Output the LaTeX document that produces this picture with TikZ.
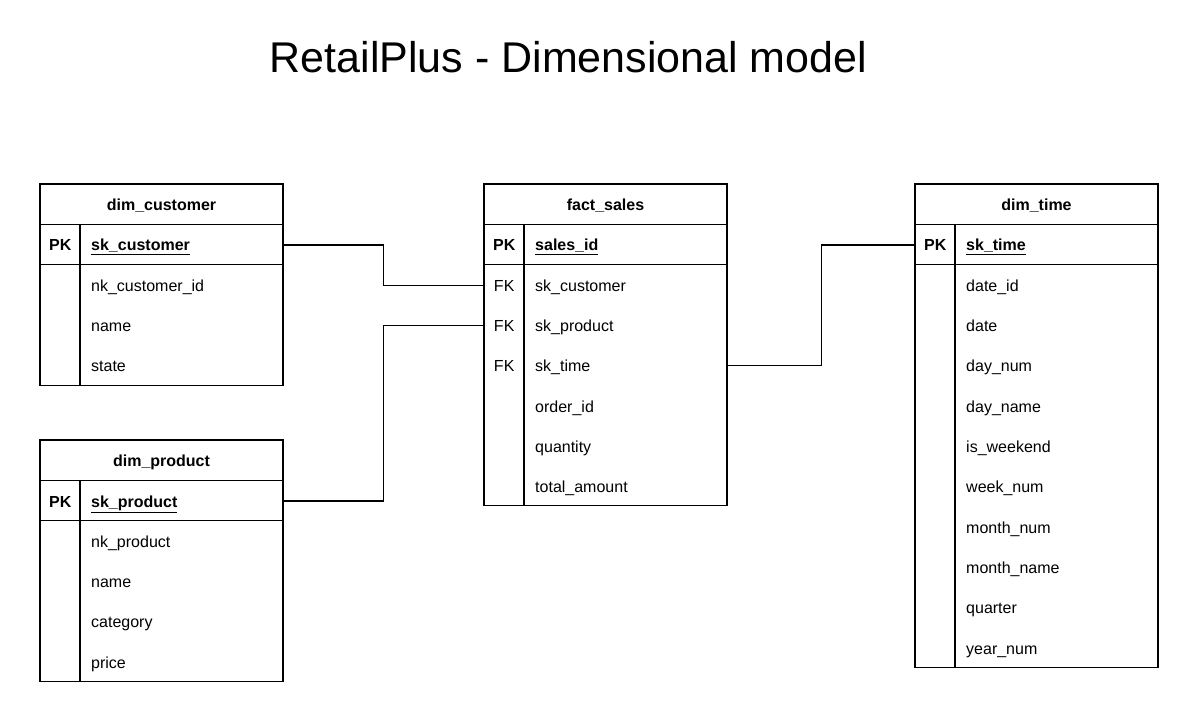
\documentclass[tikz,border=0pt]{standalone}
\usepackage{fontspec}
\setmainfont{Liberation Sans}
\begin{document}
\begin{tikzpicture}[
    x=1pt, y=-1pt,
    every node/.style={font=\fontsize{16}{19}\selectfont, inner sep=0pt},
    frame/.style={draw, line width=1.2pt},
    link/.style={draw, line width=1.1pt},
    head/.style={font=\fontsize{16}{19}\selectfont\bfseries, text height=13pt, text depth=1pt},
    key/.style={anchor=west, minimum width=40pt, text height=13pt, text depth=1pt, inner ysep=13.15pt},
    field/.style={anchor=west, text width=181pt, inner xsep=11pt, align=left, text height=13pt, text depth=1pt, inner ysep=13.15pt},
  ]
    \path[use as bounding box, fill=white] (0,0) rectangle (1198,708);
    %% Title
    \node[font=\fontsize{43}{50}\selectfont, anchor=base] (title) at (568.5,73) {RetailPlus - Dimensional model};

    %% dim_customer
    \draw[frame] (40,184) rectangle (283,385.5);
    \draw[frame] (40,224.3) -- (283,224.3);
    \draw[frame] (40,264.6) -- (283,264.6);
    \draw[frame] (80,224.3) -- (80,385.5);
    \node[head] (cust) at (161.5,204.6) {dim\_customer};
    \node[key, font=\fontsize{16}{19}\selectfont\bfseries] (cust-pk-key) at (40,245) {PK};
    \node[field, font=\fontsize{16}{19}\selectfont\bfseries] (cust-pk) at (80,245) {\underline{sk\_customer}};
    \foreach \f [count=\i] in {nk\_customer\_id, name, state}
      \node[field] (cust-\i) at (80,{245+40.3*\i}) {\f};

    %% dim_product
    \draw[frame] (40,440) rectangle (283,681.8);
    \draw[frame] (40,480.3) -- (283,480.3);
    \draw[frame] (40,520.6) -- (283,520.6);
    \draw[frame] (80,480.3) -- (80,681.8);
    \node[head] (prod) at (161.5,460.6) {dim\_product};
    \node[key, font=\fontsize{16}{19}\selectfont\bfseries] (prod-pk-key) at (40,501) {PK};
    \node[field, font=\fontsize{16}{19}\selectfont\bfseries] (prod-pk) at (80,501) {\underline{sk\_product}};
    \foreach \f [count=\i] in {nk\_product, name, category, price}
      \node[field] (prod-\i) at (80,{501+40.3*\i}) {\f};

    %% fact_sales
    \draw[frame] (484,184) rectangle (727,505.8);
    \draw[frame] (484,224.3) -- (727,224.3);
    \draw[frame] (484,264.6) -- (727,264.6);
    \draw[frame] (524,224.3) -- (524,505.8);
    \node[head] (fact) at (605.5,204.6) {fact\_sales};
    \node[key, font=\fontsize{16}{19}\selectfont\bfseries] (fact-pk-key) at (484,245) {PK};
    \node[field, font=\fontsize{16}{19}\selectfont\bfseries] (fact-pk) at (524,245) {\underline{sales\_id}};
    \foreach \i in {1,2,3}
      \node[key] (fact-k\i) at (484,{245+40.3*\i}) {FK};
    \foreach \f [count=\i] in {sk\_customer, sk\_product, sk\_time, order\_id, quantity, total\_amount}
      \node[field] (fact-\i) at (524,{245+40.3*\i}) {\f};

    %% dim_time
    \draw[frame] (915,184) rectangle (1158,667.6);
    \draw[frame] (915,224.3) -- (1158,224.3);
    \draw[frame] (915,264.6) -- (1158,264.6);
    \draw[frame] (955,224.3) -- (955,667.6);
    \node[head] (time) at (1036.5,204.6) {dim\_time};
    \node[key, font=\fontsize{16}{19}\selectfont\bfseries] (time-pk-key) at (915,245) {PK};
    \node[field, font=\fontsize{16}{19}\selectfont\bfseries] (time-pk) at (955,245) {\underline{sk\_time}};
    \foreach \f [count=\i] in {date\_id, date, day\_num, day\_name, is\_weekend, week\_num, month\_num, month\_name, quarter, year\_num}
      \node[field] (time-\i) at (955,{245+40.3*\i}) {\f};

    %% Relations
    \draw[link] (cust-pk.east) -- ++(100,0) |- (fact-k1.west);
    \draw[link] (prod-pk.east) -- ++(100,0) |- (fact-k2.west);
    \draw[link] (fact-3.east) -- ++(94,0) |- (time-pk-key.west);
  \end{tikzpicture}
\end{document}
